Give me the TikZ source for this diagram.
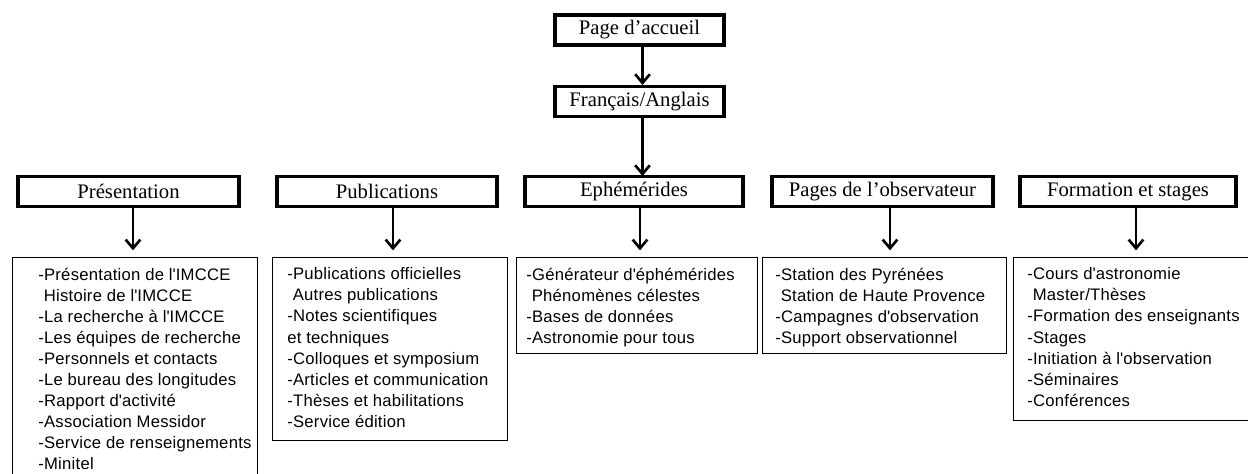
\documentclass[tikz,border=0pt]{standalone}
\usepackage{fontspec}
\setmainfont{Liberation Serif}
\newfontfamily\listfont{Liberation Sans}[LetterSpace=1.5]
\usetikzlibrary{arrows.meta,calc}
\newcommand{\ap}{\textquotesingle}
\newcommand{\ind}{\phantom{-}}

\begin{document}
\begin{tikzpicture}[x=0.75pt,y=-0.75pt,
 head/.style={draw,line width=2.3pt,inner sep=0pt,minimum width=#1*0.75pt,minimum height=30*0.75pt,
  font=\fontsize{15.5}{18}\selectfont},
 lbox/.style 2 args={draw,line width=.8pt,anchor=north west,inner sep=0pt,
  minimum width=#1*0.75pt,minimum height=#2*0.75pt},
 ltext/.style={anchor=north west,inner sep=0pt,align=left,font=\listfont\fontsize{12.5}{15.8}\selectfont},
 arr/.style={-{Straight Barb[length=6.5pt,width=11pt]},line width=2pt}]
\useasboundingbox (0,0) rectangle (1248,474);
% top of the tree
\node[head=169] (acc) at (639.5,30) {Page d’accueil};
\node[head=169] (lang) at (639.5,101.5) {Français/Anglais};
\draw[arr] ($(acc.south)+(3,0)$) -- ($(lang.north)+(3,0)$);
\draw[arr] ($(lang.south)+(3,0)$) coordinate (l) -- (l |- 0,176);
% sections
\node[head=221] (pres) at (128.5,191.5) {Présentation};
\node[head=220] (pub) at (387,191.5) {Publications};
\node[head=218] (eph) at (634,191.5) {Ephémérides};
\node[head=221] (pag) at (882.5,191.5) {Pages de l’observateur};
\node[head=216] (form) at (1128,191.5) {Formation et stages};
% content boxes
\node[lbox={245}{225}] (presL) at (12,257) {};
\node[lbox={235}{183}] (pubL) at (272,257) {};
\node[lbox={241}{96}] (ephL) at (516,257) {};
\node[lbox={244}{96}] (pagL) at (762,257) {};
\node[lbox={238}{163}] (formL) at (1013,257) {};
\foreach \a/\b/\d in {pres/presL/4.5,pub/pubL/6,eph/ephL/6,pag/pagL/7.5,form/formL/8}
 \draw[arr,shorten >=5pt] ($(\a.south)+(\d,0)$) coordinate (s) -- (s |- \b.north);
\node[ltext] (presT) at (38,267.5) {-Présentation de l\ap IMCCE\\ \ind Histoire de l\ap IMCCE\\
 -La recherche à l\ap IMCCE\\ -Les équipes de recherche\\ -Personnels et contacts\\
 -Le bureau des longitudes\\ -Rapport d\ap activité\\ -Association Messidor\\
 -Service de renseignements\\ -Minitel};
\node[ltext] (pubT) at (287,267.5) {-Publications officielles\\ \ind Autres publications\\
 -Notes scientifiques\\ et techniques\\ -Colloques et symposium\\ -Articles et communication\\
 -Thèses et habilitations\\ -Service édition};
\node[ltext] (ephT) at (526,267.5) {-Générateur d\ap éphémérides\\ \ind Phénomènes célestes\\
 -Bases de données\\ -Astronomie pour tous};
\node[ltext] (pagT) at (775,267.5) {-Station des Pyrénées\\ \ind Station de Haute Provence\\
 -Campagnes d\ap observation\\ -Support observationnel};
\node[ltext] (formT) at (1027,267.5) {-Cours d\ap astronomie\\ \ind Master/Thèses\\
 -Formation des enseignants\\ -Stages\\ -Initiation à l\ap observation\\ -Séminaires\\ -Conférences};
\end{tikzpicture}
\end{document}
